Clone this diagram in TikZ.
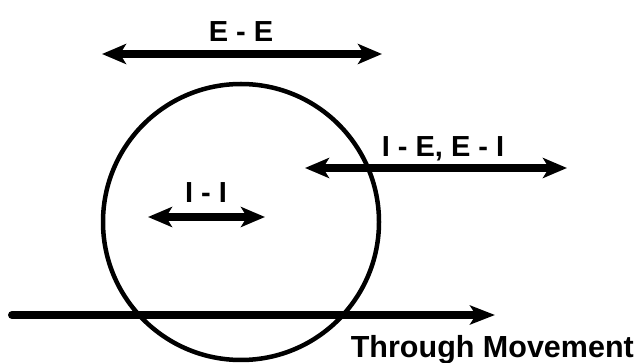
\documentclass[tikz,border=0pt]{standalone}
\usepackage{fontspec}
\setmainfont{Liberation Sans}
\usetikzlibrary{arrows.meta}
\tikzset{
  bigarrow/.style={line width=8pt, {Stealth[length=24pt,width=20pt,inset=6pt]}-{Stealth[length=24pt,width=20pt,inset=6pt]}},
  thruarrow/.style={line width=8pt, line cap=round, -{Stealth[length=25pt,width=19pt,inset=6pt]}},
  lbl/.style={font=\fontsize{29}{31}\selectfont\bfseries, inner sep=0pt},
}
\begin{document}
\begin{tikzpicture}[x=1pt,y=-1pt]
\useasboundingbox (0,0) rectangle (635,363);
\node[circle, draw, line width=4.5pt, minimum size=276pt, inner sep=0pt] (ring) at (241,222) {};
% E-E
\coordinate (eeL) at (102,54);
\coordinate (eeR) at (382,54);
\draw[bigarrow] (eeL) -- (eeR);
\node[lbl, anchor=base] (eet) at (241,42) {E - E};
% I-E, E-I
\coordinate (ieL) at (305,168);
\coordinate (ieR) at (567,168);
\draw[bigarrow] (ieL) -- (ieR);
\node[lbl, anchor=base] (iet) at (443,157) {I - E, E - I};
% I-I
\coordinate (iiL) at (148,217);
\coordinate (iiR) at (265,217);
\draw[bigarrow] (iiL) -- (iiR);
\node[lbl, anchor=base] (iit) at (206,203) {I - I};
% Through
\coordinate (thL) at (12,315);
\coordinate (thR) at (495,315);
\draw[thruarrow] (thL) -- (thR);
\node[lbl, anchor=base east, font=\fontsize{30.5}{32}\selectfont\bfseries] (tht) at (634,358) {Through Movement};
\end{tikzpicture}
\end{document}
